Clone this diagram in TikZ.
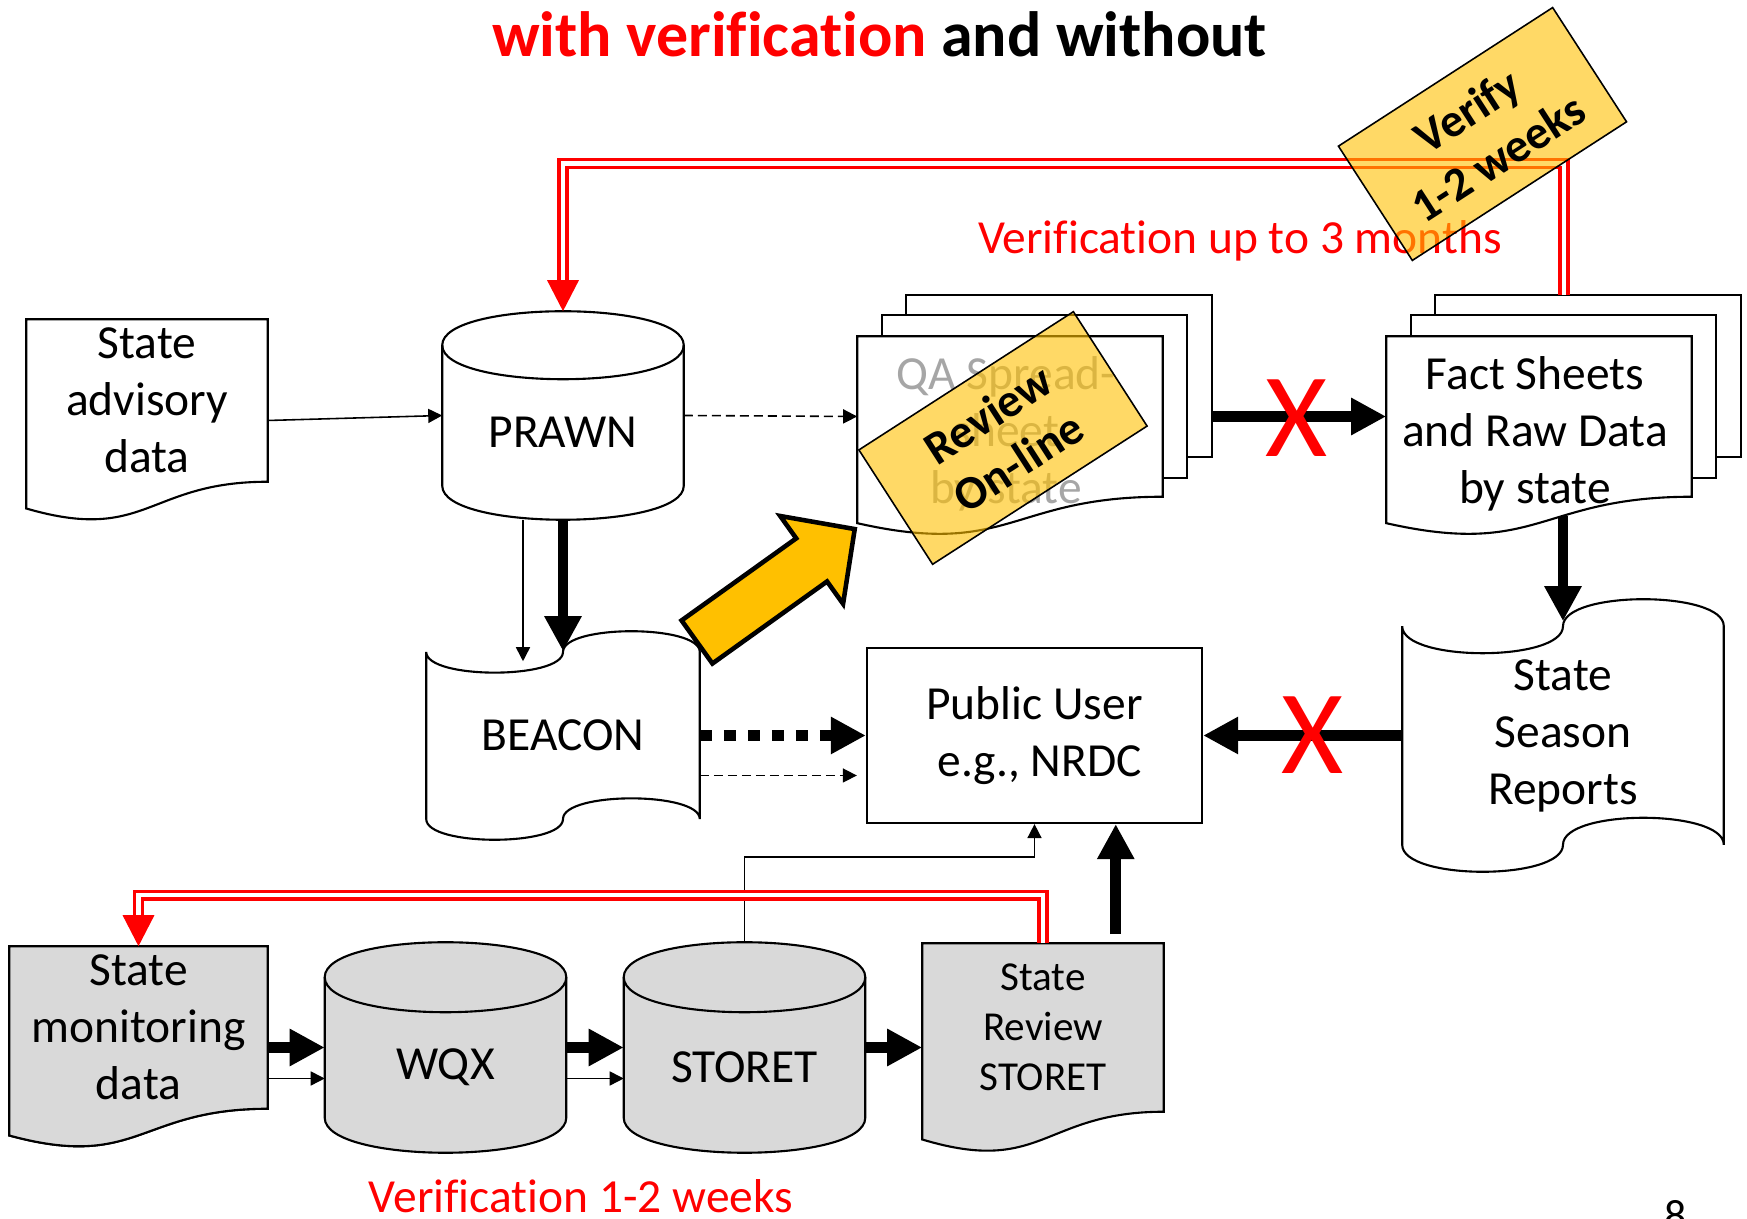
\documentclass[tikz,border=0pt]{standalone}
\usepackage{fontspec}
\setmainfont{Carlito}[Ligatures=NoCommon]
\usetikzlibrary{calc,arrows.meta,backgrounds}
\tikzset {>=Stealth}
\definecolor{gold}{HTML}{FFC000}
\definecolor{panel}{HTML}{D9D9D9}
\definecolor{faint}{HTML}{A6A6A6}
\newcommand\mainsize{\fontsize{13.5}{16.2}\selectfont}
\tikzset{
  area/.style 2 args={inner sep=0pt, minimum width=#1, minimum height=#2,
    align=center, font=\mainsize},
  outline/.style={line width=0.6pt},
  fat/.style={line width=3.1pt, -{Triangle[length=0.35cm,width=0.35cm]}},
  fatdot/.style={fat, dash pattern=on 0.12cm off 0.12cm},
  slim/.style={line width=0.45pt, -{Triangle[length=0.14cm,width=0.14cm]}},
  slimdash/.style={slim, dash pattern=on 0.09cm off 0.05cm},
  redline/.style={draw=red, double=white, double distance=0.045cm,
    line width=0.033cm, -{Triangle[length=0.31cm,width=0.31cm]}},
  redlabel/.style={text=red, font=\mainsize, inner sep=0pt},
  cross/.style={text=red, font=\fontsize{34}{34}\selectfont, inner sep=0pt},
  tag/.style={draw, line width=0.45pt, fill=gold, fill opacity=0.6, text opacity=1,
    minimum width=2.55cm, minimum height=1.36cm, inner sep=0pt, align=center,
    font=\bfseries\fontsize{13.4}{16}\selectfont},
  bigarrow/.style={draw, line width=1.3pt, fill=gold, line join=miter}
}
\newcommand\docshape[2][white]{%
  \begin{scope}[on background layer]
    \draw[outline, fill=#1] (#2.north west) -- (#2.north east) -- (#2.south east)
      .. controls (#2.south) and ($(#2.south)!-0.381!(#2.north)$) ..
      ($(#2.south west)!-0.1646!(#2.north west)$) -- cycle;
  \end{scope}}
\newcommand\stackshape[1]{%
  \begin{scope}[on background layer]
    \draw[outline, fill=white] ($(#1.north west)+(49,-41)$) rectangle ($(#1.south east)+(49,-40)$);
    \draw[outline, fill=white] ($(#1.north west)+(25,-21)$) rectangle ($(#1.south east)+(24,-19)$);
  \end{scope}
  \docshape{#1}}
\newcommand\tapeshape[2]{%
  \begin{scope}[on background layer]
    \draw[outline, fill=white] ($(#1.north west)+(0,#2)$)
      .. controls +(0,{4/3*#2}) and +(0,{4/3*#2}) .. ($(#1.north)+(0,#2)$)
      .. controls +(0,{-4/3*#2}) and +(0,{-4/3*#2}) .. ($(#1.north east)+(0,#2)$)
      -- ($(#1.south east)+(0,-#2)$)
      .. controls +(0,{-4/3*#2}) and +(0,{-4/3*#2}) .. ($(#1.south)+(0,-#2)$)
      .. controls +(0,{4/3*#2}) and +(0,{4/3*#2}) .. ($(#1.south west)+(0,-#2)$) -- cycle;
  \end{scope}}
\newcommand\cylshape[3][white]{%
  \begin{scope}[on background layer]
    \draw[outline, fill=#1] ($(#2.north west)+(0,#3)$) -- ($(#2.south west)+(0,-#3)$)
      .. controls +(0,{4/3*#3}) and +(0,{4/3*#3}) .. ($(#2.south east)+(0,-#3)$)
      -- ($(#2.north east)+(0,#3)$)
      .. controls +(0,{-4/3*#3}) and +(0,{-4/3*#3}) .. ($(#2.north west)+(0,#3)$) -- cycle;
    \draw[outline] ($(#2.north west)+(0,#3)$)
      .. controls +(0,{4/3*#3}) and +(0,{4/3*#3}) .. ($(#2.north east)+(0,#3)$);
  \end{scope}}

\begin{document}
\begin{tikzpicture}[x=0.01cm, y=-0.01cm]
\useasboundingbox (0,0) rectangle (1747,1219);

\node[anchor=base, inner sep=0pt, font=\bfseries\fontsize{18.2}{21}\selectfont] (title)
  at (879.5,57) {\textcolor{red}{with verification} and without};

\node[area={2.4cm}{1.61cm}] (sad) at (147,400.5) {State\\advisory\\data};
\docshape{sad}
\node[area={2.4cm}{2.07cm}] (prawn) at (563,415.5) {};
\cylshape{prawn}{34}
\node[area={0cm}{0cm}] (prawn-t) at ($(prawn)+(0,17)$) {PRAWN};
\node[area={3.04cm}{1.59cm}] (qa) at (1010,416.5) {};
\stackshape{qa}
\node[area={0cm}{0cm}, text=faint] (qa-t) at ($(qa)+(-4,17)$) {QA Spread-\\sheet\\by state};
\node[area={3.04cm}{1.59cm}] (fact) at (1539,416.5) {};
\stackshape{fact}
\node[area={0cm}{0cm}] (fact-t) at ($(fact)+(-4,17)$) {Fact Sheets\\and Raw Data\\by state};
\node[area={2.72cm}{2.07cm}] (beacon) at (563,735.5) {BEACON};
\tapeshape{beacon}{20.7}
\node[area={3.2cm}{2.71cm}] (season) at (1563,735.5) {State\\Season\\Reports};
\tapeshape{season}{27}
\node[area={3.35cm}{1.75cm}, draw, outline] (user) at (1034.5,735.5) {Public User\\\ e.g., NRDC};

\node[area={2.57cm}{1.61cm}] (mon) at (138.5,1027.5) {State\\monitoring\\data};
\begin{scope}[transform canvas={yshift=-0.04cm}]
\docshape[panel]{mon}
\end{scope}
\docshape[panel]{mon}
\node[area={2.4cm}{2.09cm}] (wqx) at (445.5,1047.5) {};
\cylshape[panel]{wqx}{35}
\node[area={0cm}{0cm}] (wqx-t) at ($(wqx)+(0,19.5)$) {WQX};
\node[area={2.4cm}{2.09cm}] (storet) at (744.5,1047.5) {};
\cylshape[panel]{storet}{35}
\node[area={0cm}{0cm}] (storet-t) at ($(storet)+(0,19.5)$) {STORET};
\node[area={2.4cm}{1.67cm}, font=\fontsize{11.7}{14.2}\selectfont] (review) at (1043,1027.5) {State\\Review\\STORET};
\docshape[panel]{review}

\draw[slim] ($(sad.east)+(0,20)$) -- (prawn.west);
\draw[slimdash] (prawn.east) -- (qa.west);
\draw[fat] (prawn.south) -- ($(beacon.north)+(0,20)$);
\draw[slim] ($(prawn.south)+(-40,0)$) -- ($(beacon.north)+(-40,30)$);
\draw[fatdot] (beacon.east) -- (user.west);
\draw[slimdash] ($(beacon.east)+(0,40)$) -- ($(user.west)+(-9,40)$);
\draw[fat] ($(qa.east)+(49,0)$) -- (fact.west);
\draw[fat] ($(season.north |- fact.south)+(0,19)$) -- ($(season.north)+(0,22)$);
\draw[fat] (season.west) -- (user.east);

\draw[fat] ($(mon.east)+(0,20)$) -- (wqx.west);
\draw[slim] ($(mon.east)+(0,51)$) -- ($(wqx.west)+(0,31)$);
\draw[fat] (wqx.east) -- (storet.west);
\draw[slim] ($(wqx.east)+(0,31)$) -- ($(storet.west)+(0,31)$);
\draw[fat] (storet.east) -- ($(review.west)+(0,20)$);
\draw[slim] (storet.north) -- ++(0,-85) -| (user.south);
\draw[fat] ($(review.north east)+(-48,-9)$) coordinate (rv) -- (rv |- user.south);

\draw[redline] ($(fact.north)+(25,-41)$) -- ++(0,-131.5) -| (prawn.north);
\draw[redline] (review.north) -- ++(0,-48) -| (mon.north);

\node[redlabel, anchor=base] (late) at (1240,254) {Verification up to 3 months};
\node[redlabel, anchor=base] (soon) at (581,1213) {Verification 1-2 weeks};

\node[cross] (x1) at (1297,418) {X};
\node[cross] (x2) at (1313,735) {X};

\draw[bigarrow, shift={(697,642)}, rotate=35.6]
  (0,-26.5) -- (141,-26.5) -- (141,-54) -- (194,0) -- (141,54) -- (141,26.5) -- (0,26.5) -- cycle;

\node[tag, rotate=32.8] (online) at (1003,438) {Review\\On-line};
\node[tag, rotate=32.9] (verify) at (1482.5,134) {Verify\\1-2 weeks};

\node[anchor=north, inner sep=0pt, font=\fontsize{12.5}{15}\selectfont] (page) at (1676,1200) {8};
\end{tikzpicture}
\end{document}
